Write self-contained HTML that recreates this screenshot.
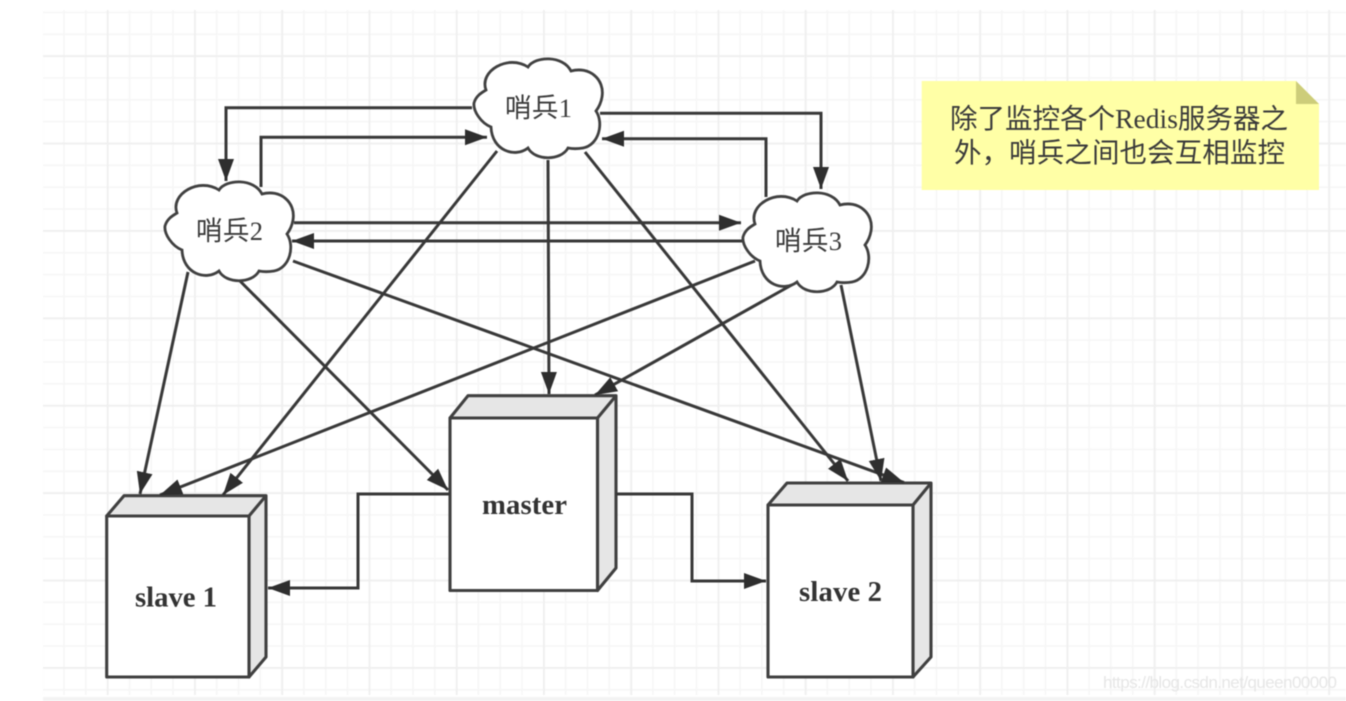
<!DOCTYPE html>
<html><head><meta charset="utf-8">
<style>
html,body{margin:0;padding:0;background:#fff;width:1346px;height:701px;overflow:hidden}
svg{display:block;filter:blur(.6px)}
.c{font-family:"Liberation Serif","WenQuanYi Zen Hei","Noto Sans CJK SC",sans-serif;fill:#3a3a3a}
.b{font-family:"Liberation Serif",serif;font-weight:bold;font-size:28.7px;fill:#333}
.l{fill:none;stroke:#383838;stroke-width:3;marker-end:url(#a)}
.box{stroke:#404040;stroke-width:3.1;stroke-linejoin:round}
.cl{fill:#fff;stroke:#404040;stroke-width:2.8}
</style></head><body>
<svg width="1346" height="701" viewBox="0 0 1346 701" xmlns="http://www.w3.org/2000/svg">
<defs>
<pattern id="mi" patternUnits="userSpaceOnUse" x="63.2" y="11.6" width="21.81" height="21.85"><rect width="1.6" height="21.85" fill="#f6f6f6"/><rect width="21.81" height="1.6" fill="#f6f6f6"/></pattern>
<pattern id="ma" patternUnits="userSpaceOnUse" x="106.8" y="55.2" width="87.25" height="87.4"><rect width="1.8" height="87.4" fill="#efefef"/><rect width="87.25" height="1.8" fill="#efefef"/></pattern>
<marker id="a" markerUnits="userSpaceOnUse" markerWidth="23" markerHeight="18" refX="22" refY="9" orient="auto"><path d="M0 1L22 9L0 17Z" fill="#2e2e2e"/></marker>
</defs>
<rect x="43" y="10" width="1303" height="685" fill="url(#mi)"/>
<rect x="43" y="10" width="1303" height="685" fill="url(#ma)"/>
<rect x="43" y="697" width="1303" height="4" fill="#f3f3f3"/>

<!-- boxes -->
<g class="box">
<path d="M106.7 516L124 495.7H266V657L249 677V516Z" fill="#e6e6e6"/>
<path d="M249 516L266 495.7" fill="none"/>
<rect x="106.7" y="516" width="142.3" height="161" fill="#fff"/>
<path d="M450 418L468 395.7H616V568L597.5 590.5V418Z" fill="#e6e6e6"/>
<path d="M597.5 418L616 395.7" fill="none"/>
<rect x="450" y="418" width="147.5" height="172.5" fill="#fff"/>
<path d="M768 505L787 483H931V657L913 677V505Z" fill="#e6e6e6"/>
<path d="M913 505L931 483" fill="none"/>
<rect x="768" y="505" width="145" height="172" fill="#fff"/>
</g>
<text class="b" x="135" y="606.5" textLength="82">slave 1</text>
<text class="b" x="482" y="514" textLength="85">master</text>
<text class="b" x="799" y="601" textLength="83">slave 2</text>

<!-- connectors -->
<path class="l" d="M472 107.7H226V181"/>
<path class="l" d="M261 187V137.3H487"/>
<path class="l" d="M600 113.3H821V189"/>
<path class="l" d="M766 197V138.7H602"/>
<path class="l" d="M294 222.7H741"/>
<path class="l" d="M743 241H292"/>
<path class="l" d="M548 160L549 394"/>
<path class="l" d="M497 151L223 495"/>
<path class="l" d="M585 152L848 481"/>
<path class="l" d="M188 272L140 494"/>
<path class="l" d="M240 281L448 490"/>
<path class="l" d="M293 261L904 482.5"/>
<path class="l" d="M755 261L160 495"/>
<path class="l" d="M797 282L595 395"/>
<path class="l" d="M841 285L881 481"/>
<path class="l" d="M450 494H358V588H268"/>
<path class="l" d="M616 494H692V581H766"/>

<!-- clouds -->
<path class="cl" transform="translate(473 57)" d="M55 10C62 -1 90 -2 98 14C116 9 132 22 129 40C128 46 126 50 123 54C131 66 126 88 110 91C104 92 100 92 95 91C88 104 62 104 55 91C42 101 19 94 18 70C8 66 0 54 1 46C3 39 8 36 13 33C6 14 35 -3 55 10Z"/>
<path class="cl" transform="translate(164 180)" d="M55 10C62 -1 90 -2 98 14C116 9 132 22 129 40C128 46 126 50 123 54C131 66 126 88 110 91C104 92 100 92 95 91C88 104 62 104 55 91C42 101 19 94 18 70C8 66 0 54 1 46C3 39 8 36 13 33C6 14 35 -3 55 10Z"/>
<path class="cl" transform="translate(742 191)" d="M55 10C62 -1 90 -2 98 14C116 9 132 22 129 40C128 46 126 50 123 54C131 66 126 88 110 91C104 92 100 92 95 91C88 104 62 104 55 91C42 101 19 94 18 70C8 66 0 54 1 46C3 39 8 36 13 33C6 14 35 -3 55 10Z"/>
<text class="c" x="505" y="117" font-size="26.5" textLength="67">哨兵1</text>
<text class="c" x="196" y="240" font-size="26.5" textLength="67">哨兵2</text>
<text class="c" x="775" y="250" font-size="26.5" textLength="67">哨兵3</text>

<!-- note -->
<path d="M921.7 81H1296L1319 104V190H921.7Z" fill="#ffffa6"/>
<path d="M1296 81L1319 104H1296Z" fill="#cdcd7a"/>
<text class="c" x="950" y="128" font-size="27.5" textLength="338">除了监控各个Redis服务器之</text>
<text class="c" x="954" y="162" font-size="27.5" textLength="331">外，哨兵之间也会互相监控</text>

<text x="1103" y="688" font-family="Liberation Sans,sans-serif" font-size="17" fill="#e6e6e6" textLength="234">https://blog.csdn.net/queen00000</text>
</svg>
</body></html>
